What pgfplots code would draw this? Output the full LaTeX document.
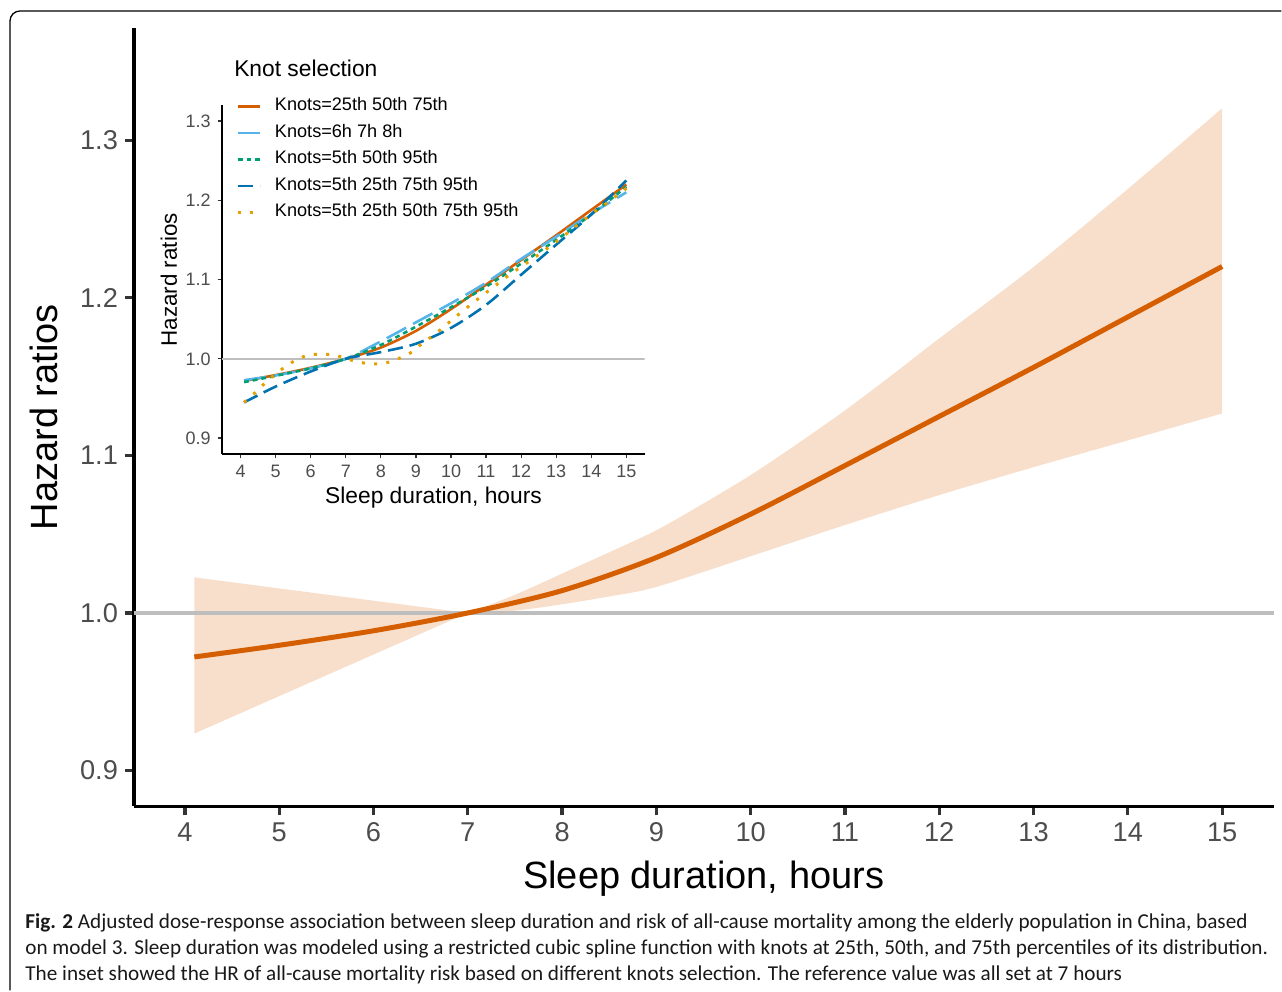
\documentclass[border=0pt]{standalone}
\usepackage{pgfplots}
\pgfplotsset{compat=1.18}
\usepgfplotslibrary{fillbetween}
\usepackage{fontspec}
\setmainfont{Liberation Sans}
\newfontfamily\capfont{Carlito}
\definecolor{cOr}{HTML}{D55E00}
\definecolor{cLb}{HTML}{56B4E9}
\definecolor{cGr}{HTML}{009E73}
\definecolor{cDb}{HTML}{0072B2}
\definecolor{cYe}{HTML}{E69F00}
\definecolor{ribbon}{HTML}{F7DFCC}
\definecolor{refgray}{HTML}{BEBEBE}
\definecolor{tickgray}{HTML}{4D4D4D}
\definecolor{tickmark}{HTML}{333333}
\begin{document}
\begin{tikzpicture}
\path (0,0) rectangle (641pt,495.5pt);
\draw[line width=0.65pt, rounded corners=5pt] (5pt,0pt) -- (5pt,490pt) -- (641pt,490pt);
% ---------------- main axis ----------------
\begin{axis}[
  at={(67pt,92.15pt)}, anchor=south west, scale only axis,
  width=570.5pt, height=389.35pt,
  xmin=3.4594, xmax=15.554, ymin=0.87736, ymax=1.37115,
  axis x line*=bottom, axis y line*=left,
  axis line style={line width=1.7pt, black, -},
  xtick={4,5,6,7,8,9,10,11,12,13,14,15},
  ytick={0.9,1.0,1.1,1.2,1.3},
  tick align=outside, major tick length=4.5pt,
  tick style={line width=1.6pt, color=tickmark},
  ticklabel style={font=\fontsize{13.6}{13.6}\selectfont, color=tickgray},
  /pgf/number format/assume math mode=true,
  yticklabel style={/pgf/number format/fixed, /pgf/number format/fixed zerofill, /pgf/number format/precision=1},
]
\addplot[name path=upL, draw=none, forget plot] coordinates {(4.1,1.0226) (7,1.0)};
\addplot[name path=loL, draw=none, forget plot] coordinates {(4.1,0.9235) (7,1.0)};
\addplot[fill=ribbon, draw=none, forget plot] fill between[of=upL and loL];
\addplot[name path=up, draw=none, smooth, forget plot] coordinates {
 (7,1.0) (7.5,1.0115) (8,1.025) (8.5,1.0385) (9,1.0525) (9.5,1.0695) (10,1.0875)
 (10.5,1.1075) (11,1.1285) (11.5,1.151) (12,1.1742) (13,1.2195) (14,1.2690) (15,1.3202)};
\addplot[name path=lo, draw=none, smooth, forget plot] coordinates {
 (7,1.0) (7.5,1.0015) (8,1.0055) (8.5,1.0105) (9,1.0165) (10,1.036)
 (11,1.0558) (12,1.0748) (13,1.0925) (14,1.1095) (15,1.1266)};
\addplot[fill=ribbon, draw=none, forget plot] fill between[of=up and lo];
\addplot[refgray, line width=2pt, forget plot] coordinates {(3.4594,1) (15.554,1)};
\addplot[cOr, line width=2.5pt, smooth] coordinates {
 (4.1,0.9721) (5,0.9795) (6,0.9887) (7,1.0) (8,1.0142) (9,1.0352)
 (10,1.0627) (11,1.0935) (12,1.1247) (13,1.1558) (14,1.1878) (15,1.2198)};
\end{axis}
% ---------------- inset axis ----------------
\begin{axis}[
  at={(110.85pt,268.35pt)}, anchor=south west, scale only axis,
  width=211.65pt, height=174.65pt,
  xmin=3.4585, xmax=15.522, ymin=0.87987, ymax=1.3202,
  axis x line*=bottom, axis y line*=left,
  axis line style={line width=1pt, black, -},
  xtick={4,5,6,7,8,9,10,11,12,13,14,15},
  ytick={0.9,1.0,1.1,1.2,1.3},
  tick align=outside, major tick length=2pt,
  tick style={line width=0.6pt, color=tickmark},
  ticklabel style={font=\fontsize{9}{9}\selectfont, color=tickgray},
  /pgf/number format/assume math mode=true,
  yticklabel style={/pgf/number format/fixed, /pgf/number format/fixed zerofill, /pgf/number format/precision=1},
  legend image code/.code={\draw[#1] (0pt,0pt) -- (11pt,0pt);},
  legend cell align=left,
  legend style={at={(axis description cs:0.0338,1.023)}, anchor=north west,
    draw=none, fill=none, inner sep=0pt, row sep=4.3pt, column sep=6.85pt,
    font=\fontsize{9.07}{9.07}\selectfont,
    nodes={inner sep=0pt, text height=6.6pt, text depth=2.4pt}},
]
\addplot[refgray, line width=0.9pt, forget plot] coordinates {(3.4585,1) (15.522,1)};
\addplot[cOr, line width=1.3pt, smooth] coordinates {
 (4.1,0.9721) (5,0.9795) (6,0.9887) (7,1.0) (8,1.0142) (9,1.0352)
 (10,1.0627) (11,1.0935) (12,1.1247) (13,1.1558) (14,1.1878) (15,1.2198)};
\addlegendentry{Knots=25th 50th 75th}
\addplot[cLb, line width=1.3pt, dash pattern=on 11pt off 4pt, smooth] coordinates {
 (4.1,0.973) (5,0.979) (6,0.988) (7,1.0) (8,1.022) (9,1.046) (10,1.070)
 (11,1.096) (12,1.126) (13,1.154) (14,1.183) (15,1.210)};
\addlegendentry{Knots=6h 7h 8h}
\addplot[cGr, line width=1.3pt, dash pattern=on 2.4pt off 2pt, smooth] coordinates {
 (4.1,0.9706) (5,0.9785) (6,0.988) (7,1.0) (8,1.0175) (9,1.0405) (10,1.065)
 (11,1.091) (12,1.120) (13,1.150) (14,1.182) (15,1.217)};
\addlegendentry{Knots=5th 50th 95th}
\addplot[cDb, line width=1.3pt, dash pattern=on 7.5pt off 3.5pt, smooth] coordinates {
 (4.1,0.945) (5,0.965) (6,0.984) (7,1.0) (8,1.0085) (9,1.019) (10,1.039)
 (11,1.068) (12,1.106) (13,1.144) (14,1.182) (15,1.225)};
\addlegendentry{Knots=5th 25th 75th 95th}
\addplot[cYe, line width=1.5pt, dash pattern=on 1.5pt off 4.65pt, smooth] coordinates {
 (4.1,0.945) (4.46,0.959) (4.76,0.972) (5.12,0.985) (5.48,0.996) (5.88,1.004)
 (6.31,1.006) (6.74,1.004) (7.18,0.998) (7.62,0.994) (8.06,0.994) (8.49,1.0)
 (8.9,1.009) (9.22,1.021) (9.57,1.032) (10.27,1.058) (10.96,1.082) (11.67,1.106)
 (12.39,1.128) (13.1,1.151) (13.81,1.176) (14.55,1.2) (15,1.215)};
\addlegendentry{Knots=5th 25th 50th 75th 95th}
\end{axis}
% ---------------- texts ----------------
\node[anchor=base, inner sep=0pt, font=\fontsize{19}{19}\selectfont] at (352pt,51pt) {Sleep duration, hours};
\node[anchor=base, rotate=90, inner sep=0pt, font=\fontsize{19}{19}\selectfont] at (29pt,286.75pt) {Hazard ratios};
\node[anchor=base, inner sep=0pt, font=\fontsize{11.4}{11.4}\selectfont] at (216.85pt,243.85pt) {Sleep duration, hours};
\node[anchor=base, rotate=90, inner sep=0pt, font=\fontsize{11.2}{11.2}\selectfont] at (88.5pt,355.5pt) {Hazard ratios};
\node[anchor=base west, inner sep=0pt, font=\fontsize{11.4}{11.4}\selectfont] at (117pt,457.15pt) {Knot selection};
\begin{scope}[every node/.style={anchor=base west, inner sep=0pt, font=\capfont\fontsize{10.6}{10.6}\selectfont, text=black!90}]
\node at (12.5pt,31pt) {\textbf{Fig. 2} Adjusted dose-response association between sleep duration and risk of all-cause mortality among the elderly population in China, based};
\node at (12.5pt,18pt) {on model 3. Sleep duration was modeled using a restricted cubic spline function with knots at 25th, 50th, and 75th percentiles of its distribution.};
\node at (12.5pt,5pt) {The inset showed the HR of all-cause mortality risk based on different knots selection. The reference value was all set at 7 hours};
\end{scope}
\end{tikzpicture}
\end{document}
